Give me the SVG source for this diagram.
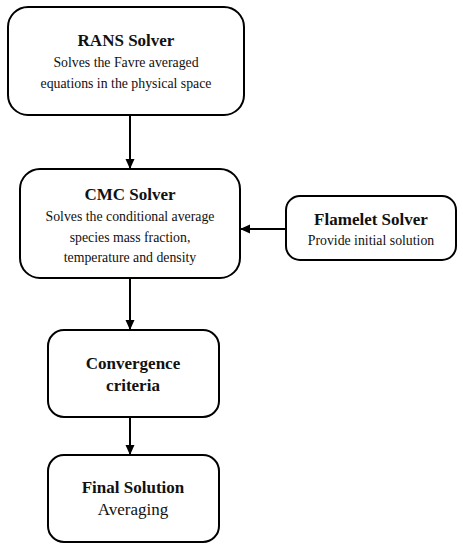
<svg xmlns="http://www.w3.org/2000/svg" width="463" height="550" viewBox="0 0 463 550">
<style>
.box{fill:#fff;stroke:#000;stroke-width:2}
.t{font-family:"Liberation Serif","Times New Roman",serif;font-weight:bold;font-size:17px;text-anchor:middle;fill:#111}
.s{font-family:"Liberation Serif","Times New Roman",serif;font-size:13.8px;text-anchor:middle;fill:#111}
.c{stroke:#000;stroke-width:2;fill:none;marker-end:url(#ah)}
</style>
<defs>
<marker id="ah" markerWidth="10" markerHeight="10" refX="9" refY="5" orient="auto" markerUnits="userSpaceOnUse">
<path d="M0,0.5 L10,5 L0,9.5 Z" fill="#000"/>
</marker>
</defs>
<rect width="463" height="550" fill="#fff"/>
<g id="connectors">
<line class="c" x1="130" y1="115" x2="130" y2="168"/>
<line class="c" x1="286" y1="229" x2="241" y2="229"/>
<line class="c" x1="130" y1="278" x2="130" y2="329"/>
<line class="c" x1="130" y1="417" x2="130" y2="454"/>
</g>
<g id="rans">
<rect class="box" x="8" y="7" width="236" height="108" rx="20"/>
<text class="t" x="126" y="46">RANS Solver</text>
<text class="s" x="126" y="67">Solves the Favre averaged</text>
<text class="s" x="126" y="88">equations in the physical space</text>
</g>
<g id="cmc">
<rect class="box" x="20" y="169" width="220" height="109" rx="20"/>
<text class="t" x="130" y="200">CMC Solver</text>
<text class="s" x="130" y="221">Solves the conditional average</text>
<text class="s" x="130" y="242">species mass fraction,</text>
<text class="s" x="130" y="262">temperature and density</text>
</g>
<g id="flamelet">
<rect class="box" x="286" y="196" width="170" height="64" rx="14"/>
<text class="t" x="371" y="225">Flamelet Solver</text>
<text class="s" x="371" y="245">Provide initial solution</text>
</g>
<g id="convergence">
<rect class="box" x="48" y="330" width="171" height="87" rx="16"/>
<text class="t" x="133" y="369">Convergence</text>
<text class="t" x="133" y="391">criteria</text>
</g>
<g id="final">
<rect class="box" x="48" y="455" width="171" height="87" rx="16"/>
<text class="t" x="133" y="493">Final Solution</text>
<text class="s" x="133" y="515" style="font-size:17px">Averaging</text>
</g>
</svg>
